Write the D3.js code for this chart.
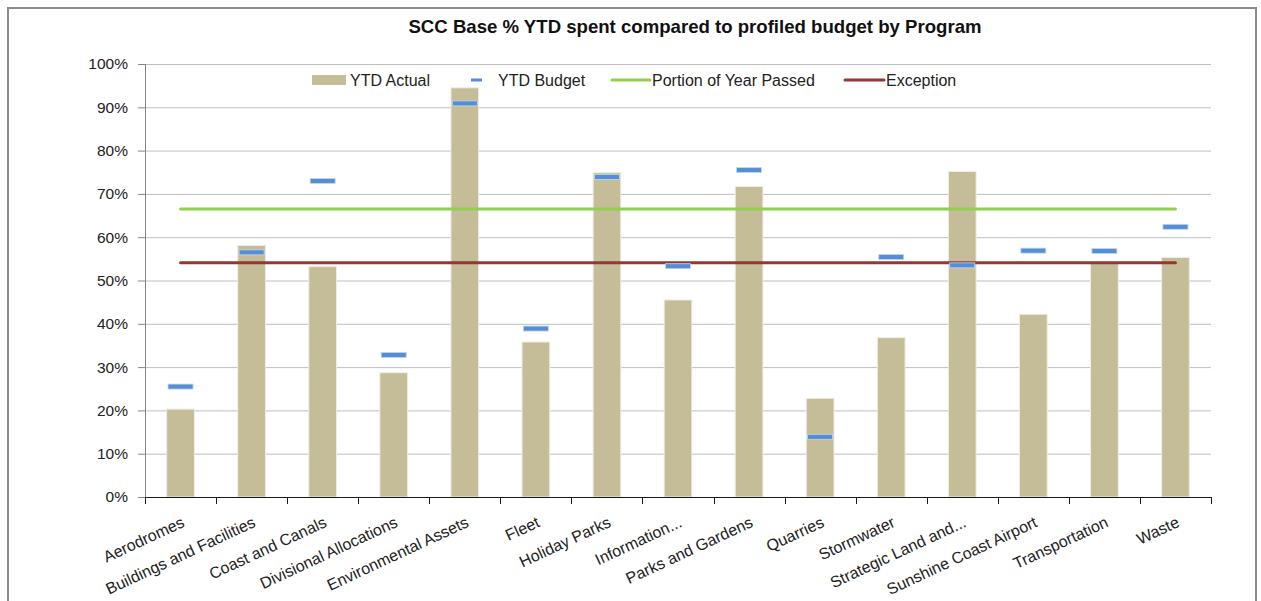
<!DOCTYPE html>
<html>
<head>
<meta charset="utf-8">
<script src="https://cdn.jsdelivr.net/npm/d3@7"></script>
<style>
    body { margin: 0; background: #fff; }
    svg { display: block; font-family: 'Liberation Sans', Arial, sans-serif; }
    .tickText { font-size: 15.5px; fill: #222; }
    .catText { font-size: 16px; fill: #222; }
    .legendText { font-size: 16px; fill: #222; }
    .title { font-size: 18.6px; font-weight: bold; fill: #111; }
</style>
</head>
<body>
<svg id="chart" width="1261" height="601"></svg>
<script>
const categories = ['Aerodromes', 'Buildings and Facilities', 'Coast and Canals', 'Divisional Allocations',
    'Environmental Assets', 'Fleet', 'Holiday Parks', 'Information...', 'Parks and Gardens', 'Quarries',
    'Stormwater', 'Strategic Land and...', 'Sunshine Coast Airport', 'Transportation', 'Waste']
const ytdActual = [20.3, 58.1, 53.2, 28.7, 94.5, 35.8, 74.9, 45.5, 71.7, 22.8, 36.8, 75.2, 42.2, 54.0, 55.3]
const ytdBudget = [25.5, 56.5, 73.0, 32.8, 90.9, 38.9, 73.9, 53.3, 75.5, 13.9, 55.4, 53.5, 56.9, 56.8, 62.4]
const yearPassed = [66.5, 66.5, 66.5, 66.5, 66.5, 66.5, 66.5, 66.5, 66.5, 66.5, 66.5, 66.5, 66.5, 66.5, 66.5]
const exception = [54.1, 54.1, 54.1, 54.1, 54.1, 54.1, 54.1, 54.1, 54.1, 54.1, 54.1, 54.1, 54.1, 54.1, 54.1]
const yTicks = [0, 10, 20, 30, 40, 50, 60, 70, 80, 90, 100]

const colors = {
    actual: '#C4BD97',
    budget: '#558ED5',
    passed: '#92D050',
    exception: '#953735'
}

const style = {
    pdg: { l: 145, r: 1211, t: 64, b: 497 },
    barFrac: 0.39,
    mark: { w: 25, h: 5 }
}

let svg = d3.select('#chart')

svg.append('rect')
    .attr('x', 8).attr('y', 8)
    .attr('width', 1248).attr('height', 640)
    .attr('fill', '#fff')
    .attr('stroke', '#8c8c8c')
    .attr('stroke-width', 2)

svg.append('text')
    .classed('title', true)
    .attr('x', 695).attr('y', 33)
    .attr('text-anchor', 'middle')
    .text('SCC Base % YTD spent compared to profiled budget by Program')

let x = d3.scaleBand().domain(categories).range([style.pdg.l, style.pdg.r])
let y = d3.scaleLinear().domain([0, 100]).range([style.pdg.b, style.pdg.t])
let bw = x.bandwidth()
let cx = d => x(d) + bw / 2

// grid
let gridG = svg.append('g')
    .attr('transform', 'translate(' + style.pdg.l + ',0)')
    .call(d3.axisLeft(y).tickValues(yTicks).tickSize(-(style.pdg.r - style.pdg.l)).tickFormat(''))
gridG.select('.domain').remove()
gridG.selectAll('line').attr('stroke', '#bfbfbf')

// y axis
let yAxisG = svg.append('g')
    .attr('transform', 'translate(' + style.pdg.l + ',0)')
    .call(d3.axisLeft(y).tickValues(yTicks).tickSize(7).tickPadding(10).tickFormat(d => d + '%'))
yAxisG.select('.domain').attr('stroke', '#868686').attr('d', 'M0.5,' + style.pdg.t + 'V' + style.pdg.b)
yAxisG.selectAll('line').attr('stroke', '#868686')
yAxisG.selectAll('text').classed('tickText', true).attr('font-size', null).attr('font-family', null)

// bars
svg.append('g')
    .selectAll('rect')
    .data(categories)
    .join('rect')
    .attr('x', d => cx(d) - bw * style.barFrac / 2)
    .attr('width', bw * style.barFrac)
    .attr('y', (d, i) => y(ytdActual[i]))
    .attr('height', (d, i) => y(0) - y(ytdActual[i]))
    .attr('fill', colors.actual)
    .attr('stroke', '#efede4')
    .attr('stroke-width', 1)

// lines
let line = d3.line().x((d, i) => cx(categories[i])).y(d => y(d))
svg.append('path')
    .datum(yearPassed)
    .attr('d', line)
    .attr('fill', 'none')
    .attr('stroke', colors.passed)
    .attr('stroke-width', 3)
    .attr('stroke-linecap', 'round')

svg.append('path')
    .datum(exception)
    .attr('d', line)
    .attr('fill', 'none')
    .attr('stroke', colors.exception)
    .attr('stroke-width', 3)
    .attr('stroke-linecap', 'round')

// budget markers
svg.append('g')
    .selectAll('rect')
    .data(categories)
    .join('rect')
    .attr('x', d => cx(d) - style.mark.w / 2)
    .attr('width', style.mark.w)
    .attr('y', (d, i) => y(ytdBudget[i]) - style.mark.h / 2)
    .attr('height', style.mark.h)
    .attr('fill', colors.budget)
    .attr('stroke', '#c5d6ee')
    .attr('stroke-width', 0.8)

// x axis
let xAxisG = svg.append('g')
xAxisG.append('line')
    .attr('x1', style.pdg.l).attr('x2', style.pdg.r)
    .attr('y1', style.pdg.b + 0.5).attr('y2', style.pdg.b + 0.5)
    .attr('stroke', '#1a1a1a')
xAxisG.selectAll('.xtick')
    .data(d3.range(categories.length + 1))
    .join('line')
    .attr('x1', i => Math.round(style.pdg.l + i * bw) + 0.5)
    .attr('x2', i => Math.round(style.pdg.l + i * bw) + 0.5)
    .attr('y1', style.pdg.b)
    .attr('y2', style.pdg.b + 7)
    .attr('stroke', '#1a1a1a')
xAxisG.selectAll('text')
    .data(categories)
    .join('text')
    .classed('catText', true)
    .attr('text-anchor', 'end')
    .attr('transform', d => 'translate(' + (cx(d) + 5) + ',' + 526 + ') rotate(-25)')
    .text(d => d)

// legend
let legend = svg.append('g')
let legendItems = [
    { name: 'YTD Actual', type: 'box', color: colors.actual, sx: 312, sw: 34, tx: 350 },
    { name: 'YTD Budget', type: 'mark', color: colors.budget, sx: 471, sw: 11, tx: 498 },
    { name: 'Portion of Year Passed', type: 'line', color: colors.passed, sx: 612, sw: 38, tx: 652 },
    { name: 'Exception', type: 'line', color: colors.exception, sx: 845, sw: 39, tx: 886 }
]
let ly = 80
legendItems.forEach(it => {
    if (it.type == 'box') {
        legend.append('rect').attr('x', it.sx).attr('y', ly - 5).attr('width', it.sw).attr('height', 10).attr('fill', it.color)
    } else if (it.type == 'mark') {
        legend.append('rect').attr('x', it.sx).attr('y', ly - 1.5).attr('width', it.sw).attr('height', 3).attr('fill', it.color)
    } else {
        legend.append('line').attr('x1', it.sx).attr('x2', it.sx + it.sw).attr('y1', ly).attr('y2', ly)
            .attr('stroke', it.color).attr('stroke-width', 3).attr('stroke-linecap', 'round')
    }
    legend.append('text')
        .classed('legendText', true)
        .attr('x', it.tx).attr('y', ly + 6)
        .text(it.name)
})
</script>
</body>
</html>
